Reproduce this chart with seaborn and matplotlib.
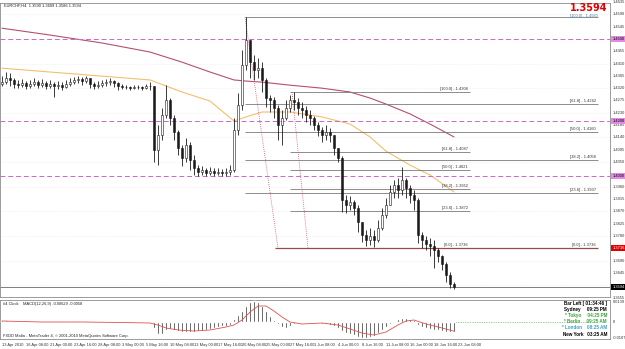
import numpy as np
import pandas as pd
import matplotlib
matplotlib.use("Agg")
import matplotlib.pyplot as plt
import seaborn as sns

sns.set_theme(style="white")
plt.rcParams['font.family'] = ['DejaVu Sans']
NARROW = ['Liberation Sans Narrow', 'DejaVu Sans Condensed', 'Liberation Sans', 'DejaVu Sans']

W, H = 625, 349

# ---------------- data ----------------
close = [1.4342, 1.4357, 1.4350, 1.4335, 1.4331, 1.4339, 1.4328, 1.4335, 1.4342, 1.4331,
         1.4339, 1.4328, 1.4335, 1.4328, 1.4331, 1.4324, 1.4335, 1.4342, 1.4350, 1.4353,
         1.4346, 1.4357, 1.4335, 1.4328, 1.4331, 1.4339, 1.4342, 1.4346, 1.4339, 1.4328,
         1.4324, 1.4324, 1.4320, 1.4324, 1.4324, 1.4320, 1.4328, 1.4328, 1.4094, 1.4149,
         1.4222, 1.4277, 1.4211, 1.4160, 1.4101, 1.4065, 1.4112, 1.4058, 1.4028, 1.4014,
         1.4021, 1.4010, 1.4017, 1.4010, 1.4014, 1.4010, 1.4014, 1.4021, 1.4167, 1.4258,
         1.4404, 1.4496, 1.4415, 1.4386, 1.4393, 1.4350, 1.4284, 1.4277, 1.4247, 1.4185,
         1.4211, 1.4247, 1.4277, 1.4269, 1.4247, 1.4240, 1.4222, 1.4211, 1.4185, 1.4167,
         1.4149, 1.4160, 1.4149, 1.4101, 1.4065, 1.3912, 1.3893, 1.3904, 1.3882, 1.3831,
         1.3784, 1.3766, 1.3780, 1.3766, 1.3809, 1.3857, 1.3893, 1.3941, 1.3966, 1.3948,
         1.3985, 1.3955, 1.3930, 1.3912, 1.3784, 1.3766, 1.3751, 1.3744, 1.3729, 1.3707,
         1.3678, 1.3638, 1.3605, 1.3594]
high = [1.4364, 1.4379, 1.4375, 1.4357, 1.4350, 1.4353, 1.4346, 1.4350, 1.4357, 1.4350,
        1.4353, 1.4346, 1.4350, 1.4342, 1.4346, 1.4342, 1.4350, 1.4357, 1.4361, 1.4364,
        1.4361, 1.4364, 1.4353, 1.4342, 1.4346, 1.4350, 1.4353, 1.4357, 1.4350, 1.4342,
        1.4335, 1.4331, 1.4328, 1.4331, 1.4331, 1.4328, 1.4335, 1.4342, 1.4320, 1.4185,
        1.4247, 1.4331, 1.4284, 1.4222, 1.4167, 1.4112, 1.4138, 1.4123, 1.4076, 1.4039,
        1.4036, 1.4028, 1.4032, 1.4028, 1.4028, 1.4025, 1.4028, 1.4039, 1.4211, 1.4302,
        1.4459, 1.4580, 1.4477, 1.4441, 1.4430, 1.4415, 1.4357, 1.4295, 1.4288, 1.4258,
        1.4240, 1.4277, 1.4295, 1.4306, 1.4284, 1.4269, 1.4255, 1.4240, 1.4218, 1.4196,
        1.4178, 1.4185, 1.4174, 1.4149, 1.4094, 1.4072, 1.3930, 1.3926, 1.3912, 1.3893,
        1.3831, 1.3802, 1.3809, 1.3802, 1.3839, 1.3882, 1.3919, 1.3966, 1.3985, 1.3992,
        1.4032, 1.3992, 1.3966, 1.3948, 1.3919, 1.3795, 1.3780, 1.3773, 1.3766, 1.3736,
        1.3711, 1.3685, 1.3649, 1.3612]
low = [1.4328, 1.4335, 1.4328, 1.4320, 1.4320, 1.4324, 1.4317, 1.4320, 1.4328, 1.4320,
       1.4324, 1.4317, 1.4320, 1.4288, 1.4317, 1.4313, 1.4320, 1.4328, 1.4335, 1.4339,
       1.4331, 1.4339, 1.4320, 1.4317, 1.4320, 1.4324, 1.4328, 1.4331, 1.4324, 1.4313,
       1.4317, 1.4317, 1.4313, 1.4317, 1.4317, 1.4313, 1.4317, 1.4313, 1.4050, 1.4039,
       1.4131, 1.4211, 1.4185, 1.4131, 1.4076, 1.4036, 1.4050, 1.4021, 1.4003, 1.3999,
       1.4003, 1.3999, 1.4003, 1.3999, 1.4003, 1.3999, 1.3999, 1.4003, 1.4014, 1.4149,
       1.4240, 1.4386, 1.4357, 1.4350, 1.4357, 1.4306, 1.4251, 1.4233, 1.4211, 1.4131,
       1.4112, 1.4204, 1.4233, 1.4240, 1.4222, 1.4211, 1.4196, 1.4185, 1.4167, 1.4145,
       1.4123, 1.4131, 1.4123, 1.4076, 1.4050, 1.3868, 1.3864, 1.3875, 1.3857, 1.3795,
       1.3758, 1.3744, 1.3747, 1.3740, 1.3758, 1.3802, 1.3846, 1.3893, 1.3919, 1.3919,
       1.3930, 1.3919, 1.3901, 1.3875, 1.3755, 1.3736, 1.3729, 1.3707, 1.3663, 1.3685,
       1.3656, 1.3612, 1.3590, 1.3587]
first_open = 1.4335

ma_idx = [0, 12, 25, 37, 45, 52, 58, 61, 65, 72, 80, 87, 92, 96, 102, 107, 113]
ma_slow = [1.4539, 1.4514, 1.4485, 1.4452, 1.4415, 1.4379, 1.4350, 1.4346, 1.4342,
           1.4331, 1.4320, 1.4306, 1.4284, 1.4262, 1.4226, 1.4189, 1.4142]
ma_fast = [1.4393, 1.4379, 1.4364, 1.4350, 1.4306, 1.4273, 1.4200, 1.4215, 1.4233,
           1.4233, 1.4215, 1.4189, 1.4142, 1.4090, 1.4039, 1.4003, 1.3941]

pivot_levels = [1.4500, 1.4200, 1.4000]

fib_ratios = [100.0, 61.8, 50.0, 38.2, 23.6, 0.0]
fibA_prices = [1.4580, 1.4262, 1.4160, 1.4058, 1.3937, 1.3736]
fibB_prices = [1.4306, 1.4087, 1.4021, 1.3952, 1.3872, 1.3736]
fibA_span = [60.75, 149.0]
fibB_span = [72.0, 117.0]
fibA_trend_idx = [60.75, 69.0]
fibA_trend_px = [1.4580, 1.3736]
fibB_trend_idx = [72.5, 76.5]
fibB_trend_px = [1.4306, 1.3736]
fib0_start = 68.25

axis_ticks = [1.4635, 1.4590, 1.4545, 1.4500, 1.4455, 1.4410, 1.4365, 1.4320, 1.4275,
              1.4230, 1.4185, 1.4140, 1.4095, 1.4050, 1.4005, 1.3960, 1.3915, 1.3870,
              1.3825, 1.3780, 1.3735, 1.3690, 1.3645, 1.3600, 1.3555]

macd_hist = [0.00095, 0.00095, 0.00063, 0.00032, -0.00032, -0.00063, -0.00063, -0.00063,
             -0.00063, -0.00063, -0.00063, -0.00063, -0.00032, -0.00063, -0.00032, -0.00032,
             0.0, 0.0, 0.00032, 0.00032, 0.00032, 0.00032, 0.00032, 0.0, 0.0, 0.0, 0.0, 0.0,
             0.0, 0.0, -0.00063, -0.00063, -0.00063, -0.00063, -0.00063, -0.00063, -0.00063,
             -0.00063, -0.00378, -0.00756, -0.00756, -0.00504, -0.00441, -0.00504, -0.00567,
             -0.0063, -0.0063, -0.0063, -0.0063, -0.00567, -0.00567, -0.00504, -0.00441,
             -0.00378, -0.00315, -0.00252, -0.00252, -0.00189, 0.00189, 0.00441, 0.00693,
             0.01008, 0.0126, 0.01323, 0.0126, 0.01008, 0.00693, 0.00378, 0.00126, -0.00126,
             -0.00315, -0.00378, -0.00252, -0.00126, -0.00063, -0.00063, 0.0, 0.0, -0.00063,
             -0.00063, -0.00126, -0.00126, -0.00189, -0.00252, -0.00378, -0.00567, -0.00693,
             -0.00756, -0.00819, -0.00945, -0.01008, -0.01008, -0.00945, -0.00882, -0.00693,
             -0.00504, -0.00315, -0.00126, 0.00063, 0.00189, 0.00252, 0.00252, 0.00189,
             0.00126, -0.00189, -0.00315, -0.00378, -0.00441, -0.00504, -0.00504, -0.00567,
             -0.0063, -0.0063, -0.00629]
sig_idx = [0, 10, 20, 30, 37, 39, 41, 44, 48, 52, 56, 58, 60, 62, 64, 66, 68, 70, 72, 75,
           80, 84, 87, 90, 93, 96, 99, 101, 103, 106, 110, 113]
sig_val = [0.00063, 0.0, 0.0, -0.00032, -0.00063, -0.00189, -0.00378, -0.00504, -0.00567,
           -0.00504, -0.00315, -0.00189, 0.00126, 0.0063, 0.01008, 0.01008, 0.00693, 0.00315,
           0.0, -0.00126, -0.00063, -0.00189, -0.00441, -0.00693, -0.00819, -0.0063,
           -0.00189, 0.00063, 0.00126, -0.00126, -0.00378, -0.0058]
macd_scale_labels = [(0.0128, "0.0139"), (0.0, "0"), (-0.0099, "-0.0107")]

date_tick_idx = [0, 6, 12, 18, 24, 30, 36, 42, 48, 54, 60, 66, 72, 78, 84, 90, 96, 102, 108, 114]
date_labels = ["13 Apr 2010", "16 Apr 08:00", "21 Apr 00:00", "23 Apr 16:00", "28 Apr 08:00",
               "3 May 00:00", "5 May 16:00", "10 May 08:00", "13 May 00:00", "17 May 16:00",
               "20 May 08:00", "25 May 00:00", "27 May 16:00", "1 Jun 08:00", "4 Jun 00:00",
               "8 Jun 16:00", "11 Jun 08:00", "16 Jun 00:00", "18 Jun 16:00", "23 Jun 08:00"]

clock_rows = [("Bar Left [ 01:34:46 ]", "#000000"), ("Sydney     09:25 PM", "#000000"),
              ("* Tokyo     04:25 PM", "#3aa53a"), ("* Berlin     09:25 AM", "#3aa53a"),
              ("* London    08:25 AM", "#3fa0c8"), ("New York   03:25 AM", "#000000")]

# ---------------- figure ----------------
fig = plt.figure(figsize=(W / 100, H / 100), dpi=100)
fig.patch.set_facecolor("white")

def fx(x):
    return x / W

def fy(y):
    return 1 - y / H

ax = fig.add_axes([0.0, fy(297), fx(610), (297 - 3) / H])
ax2 = fig.add_axes([0.0, fy(339), fx(610), (339 - 300) / H])

xlim = (-0.5, 152.0)
ax.set_xlim(*xlim)
ax.set_ylim(1.35575, 1.4631)
ax2.set_xlim(*xlim)
ax2.set_ylim(-0.01071, 0.01386)

for a in (ax, ax2):
    a.set_facecolor("white")
    for s in a.spines.values():
        s.set_color("#8c8c8c")
        s.set_linewidth(0.6)
    a.set_yticks([])

ax.set_xticks([])

idx = np.arange(len(close))
opens = np.array([first_open] + close[:-1])
cl = np.array(close)
hi = np.array(high)
lo = np.array(low)

small = dict(fontsize=2.9, family=NARROW)

# light dotted grid
for t in axis_ticks[1::2]:
    if any(abs(t - p) < 0.0012 for p in pivot_levels):
        continue
    ax.axhline(t, color="#dcdcdc", lw=0.4, ls=(0, (1, 2)), zorder=0)

# pivot lines
for p in pivot_levels:
    ax.axhline(p, color="#cc66cc", lw=0.7, ls=(0, (5, 3)), zorder=2.5)

# moving averages
sns.lineplot(x=ma_idx, y=ma_slow, ax=ax, color="#b5506e", lw=0.8, zorder=2)
sns.lineplot(x=ma_idx, y=ma_fast, ax=ax, color="#f2bf6e", lw=0.8, zorder=2)

# fibonacci A
for r, p in zip(fib_ratios, fibA_prices):
    if r == 0.0:
        continue
    ax.hlines(p, fibA_span[0], fibA_span[1], color="#7a7a7a", lw=0.6, zorder=2)
    if r != 100.0:
        ax.text(fibA_span[1] - 0.5, p + 0.0004, f"[{r:.1f}] - {p:.4f}", color="#333333",
                ha="right", va="bottom", **small)
# fibonacci B
for r, p in zip(fib_ratios, fibB_prices):
    if r == 0.0:
        continue
    ax.hlines(p, fibB_span[0], fibB_span[1], color="#7a7a7a", lw=0.6, zorder=2)
    ax.text(fibB_span[1] - 0.5, p + 0.0004, f"[{r:.1f}] - {p:.4f}", color="#333333",
            ha="right", va="bottom", **small)
# zero level line (shared)
ax.hlines(fibA_prices[-1], fib0_start, fibA_span[1], color="#9a4a4a", lw=0.9, zorder=2)
ax.text(fibB_span[1] - 0.5, fibA_prices[-1] + 0.0004, f"[0.0] - {fibB_prices[-1]:.4f}",
        color="#333333", ha="right", va="bottom", **small)
ax.text(fibA_span[1] - 0.5, fibA_prices[-1] + 0.0004, f"[0.0] - {fibA_prices[-1]:.4f}",
        color="#333333", ha="right", va="bottom", **small)
ax.plot(fibA_trend_idx, fibA_trend_px, color="#d05060", lw=0.6, ls=(0, (1, 1.5)), zorder=2)
ax.plot(fibB_trend_idx, fibB_trend_px, color="#d05060", lw=0.6, ls=(0, (1, 1.5)), zorder=2)

# bid line
ax.axhline(cl[-1], color="#6a6a6a", lw=0.6, zorder=1)

# candles
wick_lo = np.minimum(lo, np.minimum(opens, cl))
wick_hi = np.maximum(hi, np.maximum(opens, cl))
ax.vlines(idx, wick_lo, wick_hi, color="#1a1a1a", lw=0.6, zorder=3)
body_bot = np.minimum(opens, cl)
body_h = np.maximum(np.abs(cl - opens), 0.00008)
colors = np.where(cl >= opens, "white", "#1a1a1a")
ax.bar(idx, body_h, bottom=body_bot, width=0.55, color=colors, edgecolor="#1a1a1a",
       linewidth=0.4, zorder=4)

# right-hand price scale
for t in axis_ticks:
    if any(abs(t - p) < 0.0012 for p in pivot_levels + [fibA_prices[-1], cl[-1]]):
        continue
    ax.text(1.004, t, f"{t:.4f}", transform=ax.get_yaxis_transform(), color="#333333",
            ha="left", va="center", clip_on=False, **small)
for p in pivot_levels:
    ax.text(1.004, p, f"{p:.4f}", transform=ax.get_yaxis_transform(), color="#000000",
            ha="left", va="center", clip_on=False,
            bbox=dict(boxstyle="square,pad=0.25", fc="#e48ae4", ec="none"), **small)
ax.text(1.004, fibA_prices[-1], f"{fibB_prices[-1]:.4f}", transform=ax.get_yaxis_transform(),
        color="#ffffff", ha="left", va="center", clip_on=False,
        bbox=dict(boxstyle="square,pad=0.25", fc="#e00000", ec="none"), **small)
ax.text(1.004, cl[-1], f"{cl[-1]:.4f}", transform=ax.get_yaxis_transform(),
        color="#ffffff", ha="left", va="center", clip_on=False,
        bbox=dict(boxstyle="square,pad=0.25", fc="#000000", ec="none"), **small)

# header texts
fig.text(fx(4), fy(6), "EURCHF,H4  1.3590 1.3609 1.3586 1.3594", color="#222222",
         ha="left", va="center", **small)
fig.text(fx(607), fy(8), f"{cl[-1]:.4f}", fontsize=7.0, color="#e00000",
         weight="bold", ha="right", va="center")
fig.text(fx(598), fy(15.5), f"[100.0] - {fibA_prices[0]:.4f}", color="#4a7fb0",
         ha="right", va="center", **small)

# ---------------- MACD panel ----------------
ax2.bar(idx, macd_hist, width=0.7, color="#111111", zorder=3)
sns.lineplot(x=sig_idx, y=sig_val, ax=ax2, color="#e05050", lw=0.6, zorder=4)
ax2.hlines(0.0, idx[-1], 147, color="#3aa53a", lw=0.5, ls=(0, (1, 1.5)))
ax2.set_xticks(date_tick_idx)
ax2.set_xticklabels(date_labels, ha="left", **small)
ax2.tick_params(axis="x", length=1.5, width=0.4, pad=1.2, colors="#555555")
for lab in ax2.get_xticklabels():
    lab.set_color("#333333")

ax2.text(0.005, 0.9, "#4 Clock    MACD(12,26,9) -0.00629 -0.0058", transform=ax2.transAxes,
         color="#222222", ha="left", va="center", **small)
ax2.text(0.005, 0.07, "FXDD Malta - MetaTrader 4, \u00a9 2001-2010 MetaQuotes Software Corp.",
         transform=ax2.transAxes, color="#222222", ha="left", va="center", **small)
for k, (txt, col) in enumerate(clock_rows):
    fig.text(fx(607), fy(303.5 + 6.1 * k), txt, fontsize=3.3, color=col,
             weight="bold", ha="right", va="center", family=NARROW)
for v, s in macd_scale_labels:
    ax2.text(1.004, v, s, transform=ax2.get_yaxis_transform(), color="#333333",
             ha="left", va="center", clip_on=False, **small)

fig.savefig("out.png", dpi=100, facecolor="white")
